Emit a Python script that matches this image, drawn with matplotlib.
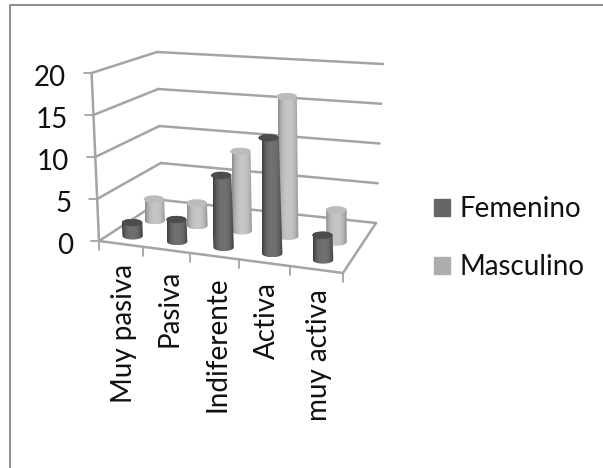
import numpy as np
import matplotlib
matplotlib.use('Agg')
import matplotlib.pyplot as plt
from matplotlib.patches import Patch, PathPatch
from matplotlib.path import Path

plt.rcParams['font.family'] = ['Lato', 'DejaVu Sans']

categorias = ['Muy pasiva', 'Pasiva', 'Indiferente', 'Activa', 'muy activa']
femenino = [1.6, 2.6, 8.4, 13.3, 2.8]
masculino = [2.7, 2.8, 9.7, 16.8, 3.8]
series = ['Femenino', 'Masculino']
yticks = [0, 5, 10, 15, 20]

# esquinas del suelo en pixeles: frente izq, frente der, fondo der, fondo izq
FL, FR, BR, BL = (99, 241), (343, 273), (376, 223), (162, 200)
ALTO_FL, ALTO_FR, ALTO_BR, ALTO_BL = (-0.37, -8.4), (-0.37, -9.1), (0.35, -7.95), (-0.25, -7.4)
RADIO = 10.2
GRIS = '#a4a4a4'
TEXTO = '#111111'


def homografia(esquinas):
    src = [(0, 0), (1, 0), (1, 1), (0, 1)]
    A, b = [], []
    for (u, v), (x, y) in zip(src, esquinas):
        A.append([u, v, 1, 0, 0, 0, -u * x, -v * x])
        A.append([0, 0, 0, u, v, 1, -u * y, -v * y])
        b += [x, y]
    return np.append(np.linalg.solve(np.array(A, float), np.array(b, float)), 1).reshape(3, 3)


H = homografia([FL, FR, BR, BL])


def proy(u, v, z=0):
    x, y, w = H @ np.array([u, v, 1.0])
    x, y = x / w, y / w
    dx = (1 - v) * ((1 - u) * ALTO_FL[0] + u * ALTO_FR[0]) + v * ((1 - u) * ALTO_BL[0] + u * ALTO_BR[0])
    dy = (1 - v) * ((1 - u) * ALTO_FL[1] + u * ALTO_FR[1]) + v * ((1 - u) * ALTO_BL[1] + u * ALTO_BR[1])
    return x + dx * z, y + dy * z


def linea(ax, p, q, lw=1.8):
    ax.plot([p[0], q[0]], [p[1], q[1]], color=GRIS, lw=lw, solid_capstyle='round', zorder=1)


def cilindro(ax, u, v, valor, bordes, centro, tapa):
    xb, yb = proy(u, v, 0)
    xt, yt = proy(u, v, valor)
    r = RADIO
    ry = r * 0.36
    t = np.linspace(0, np.pi, 40)
    # contorno: arco inferior + arco superior
    pts = np.r_[np.c_[xb + r * np.cos(t), yb + ry * np.sin(t)],
                np.c_[xt - r * np.cos(t), yt - ry * np.sin(t)]]
    camino = Path(np.r_[pts, pts[:1]], closed=True)
    s = np.linspace(-1, 1, 64)
    grad = (np.abs(s) ** 2.6)[None, :, None]
    b = np.array(matplotlib.colors.to_rgb(bordes))
    c = np.array(matplotlib.colors.to_rgb(centro))
    img = c + (b - c) * grad
    im = ax.imshow(img, extent=[xb - r, xb + r, yb + ry, yt - ry], aspect='auto', zorder=3,
                   interpolation='bilinear')
    p = PathPatch(camino, transform=ax.transData, fc='none', ec='none')
    ax.add_patch(p)
    im.set_clip_path(p)
    t2 = np.linspace(0, 2 * np.pi, 60)
    ax.fill(xt + r * np.cos(t2), yt + ry * np.sin(t2), color=tapa, lw=0, zorder=3)


fig = plt.figure(figsize=(6.03, 4.68), dpi=100)
ax = fig.add_axes([0, 0, 1, 1])

# marco del grafico
ax.plot([10, 10, 603], [468, 4.5, 4.5], color='#8c8c8c', lw=1.4, zorder=1)

# paredes, rejilla y suelo
for z in yticks:
    a, b, c = proy(0, 0, z), proy(0, 1, z), proy(1, 1, z)
    linea(ax, a, b)
    linea(ax, b, c)
    linea(ax, (a[0] - 8, a[1]), a, lw=1.3)
    ax.text(a[0] - 26, a[1] + 5, str(z), ha='right', va='center', fontsize=20, color=TEXTO)
linea(ax, proy(0, 0, 0), proy(0, 0, yticks[-1]))
linea(ax, proy(0, 0), proy(1, 0))
linea(ax, proy(1, 0), proy(1, 1))

n = len(categorias)
for i in range(n + 1):
    x, y = proy(i / n, 0)
    linea(ax, (x, y), (x, y + 9), lw=1.3)

for i, nombre in enumerate(categorias):
    x, y = proy((i + 0.5) / n, 0)
    ax.text(x + 3, y + 20, nombre, rotation=90, ha='center', va='top', fontsize=20, color=TEXTO)

# primero la fila del fondo
for i, val in enumerate(masculino):
    cilindro(ax, (i + 0.5) / n, 0.52, val, '#8a8a8a', '#c6c6c6', '#bcbcbc')
for i, val in enumerate(femenino):
    cilindro(ax, (i + 0.5) / n, 0.17, val, '#3c3c3c', '#707070', '#4c4c4c')

ax.set_xlim(0, 603)
ax.set_ylim(468, 0)
ax.axis('off')

handles = [Patch(color='#666666'), Patch(color='#adadad')]
ax.legend(handles, series, loc='center left', bbox_to_anchor=(409 / 603, 1 - 238 / 468),
          frameon=False, fontsize=20, handlelength=0.58, handleheight=0.58, handletextpad=0.32,
          labelspacing=1.15, labelcolor=TEXTO)

fig.savefig('out.png', dpi=100)
